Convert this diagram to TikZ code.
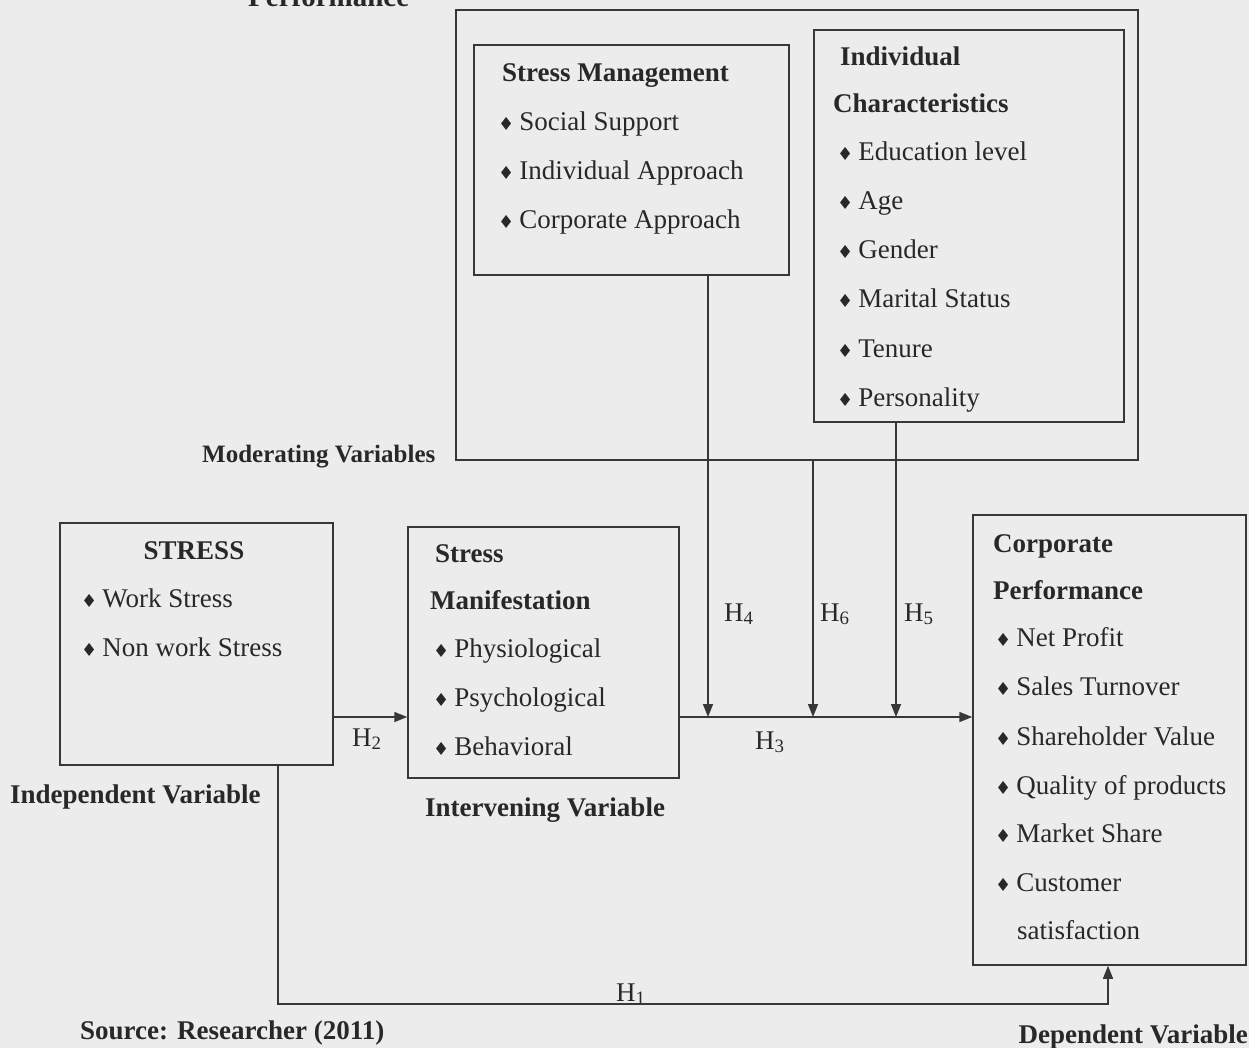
\documentclass[tikz,border=0pt]{standalone}
\usepackage{fontspec}
\setmainfont{Liberation Serif}
\newfontfamily\djv{DejaVu Sans}
\usetikzlibrary{arrows.meta}
\definecolor{bgc}{RGB}{236,236,236}
\definecolor{ink}{RGB}{40,40,40}
\definecolor{lin}{RGB}{55,55,55}
\newcommand\bl{{\djv\fontsize{18}{18}\selectfont\symbol{"2666}}\hspace{5pt}}
\tikzset{
  box/.style={draw=lin, line width=1.5pt, rectangle, inner sep=0pt},
  txt/.style={anchor=base west, inner sep=0pt, text=ink, font=\fontsize{27}{32}\selectfont},
  ttl/.style={txt, font=\fontsize{27}{32}\selectfont\bfseries},
  hl/.style={txt, font=\fontsize{27}{32}\selectfont},
  conn/.style={draw=lin, line width=1.5pt},
  arr/.style={conn, -{Triangle[length=13pt,width=10pt]}}
}
\begin{document}
\begin{tikzpicture}[x=1pt,y=-1pt]
\useasboundingbox (0,0) rectangle (1249,1048);
\fill[bgc] (0,0) rectangle (1249,1048);
\clip (0,0) rectangle (1249,1048);

% top cut-off text
\node[ttl, font=\fontsize{29}{32}\selectfont\bfseries] (perf) at (248,7) {Performance};

% boxes
\node[box, minimum width=682pt, minimum height=450pt] (outer) at (797,235) {};
\node[box, minimum width=315pt, minimum height=230pt] (SM) at (631.5,160) {};
\node[box, minimum width=310pt, minimum height=392pt] (IC) at (969,226) {};
\node[box, minimum width=273pt, minimum height=242pt] (ST) at (196.5,644) {};
\node[box, minimum width=271pt, minimum height=251pt] (MF) at (543.5,652.5) {};
\node[box, minimum width=273pt, minimum height=450pt] (CP) at (1109.5,740) {};

% Stress Management
\node[ttl] (smt) at (502,82) {Stress Management};
\node[txt] (sm1) at (498,131) {\bl Social Support};
\node[txt] (sm2) at (498,180) {\bl Individual Approach};
\node[txt] (sm3) at (498,229) {\bl Corporate Approach};

% Individual Characteristics
\node[ttl] (ict1) at (840,66) {Individual};
\node[ttl] (ict2) at (833,113) {Characteristics};
\node[txt] (ic1) at (837,161) {\bl Education level};
\node[txt] (ic2) at (837,210) {\bl Age};
\node[txt] (ic3) at (837,259) {\bl Gender};
\node[txt] (ic4) at (837,308) {\bl Marital Status};
\node[txt] (ic5) at (837,357) {\bl Tenure};
\node[txt] (ic6) at (837,406) {\bl Personality};

\node[ttl, font=\fontsize{25}{32}\selectfont\bfseries] (modv) at (202,462) {Moderating Variables};

% STRESS
\node[ttl, anchor=base] (stt) at (194,559) {STRESS};
\node[txt] (st1) at (81,607) {\bl Work Stress};
\node[txt] (st2) at (81,656) {\bl Non work Stress};

% Stress Manifestation
\node[ttl] (mft1) at (435,562) {Stress};
\node[ttl] (mft2) at (430,609) {Manifestation};
\node[txt] (mf1) at (433,657) {\bl Physiological};
\node[txt] (mf2) at (433,706) {\bl Psychological};
\node[txt] (mf3) at (433,755) {\bl Behavioral};

% Corporate Performance
\node[ttl] (cpt1) at (993,552) {Corporate};
\node[ttl] (cpt2) at (993,599) {Performance};
\node[txt] (cp1) at (995,646) {\bl Net Profit};
\node[txt] (cp2) at (995,695) {\bl Sales Turnover};
\node[txt] (cp3) at (995,745) {\bl Shareholder Value};
\node[txt] (cp4) at (995,794) {\bl Quality of products};
\node[txt] (cp5) at (995,842) {\bl Market Share};
\node[txt] (cp6) at (995,891) {\bl Customer};
\node[txt] (cp7) at (1017,939) {satisfaction};

% variable labels
\node[ttl] (indv) at (10,803) {Independent Variable};
\node[ttl] (intv) at (425,816) {Intervening Variable};
\node[ttl] (src) at (80,1039) {Source: Researcher (2011)};
\node[ttl, anchor=base east] (depv) at (1248,1043) {Dependent Variable};

% hypothesis labels
\node[hl] (h1) at (616,1001) {H\textsubscript{1}};
\node[hl] (h2) at (352,746) {H\textsubscript{2}};
\node[hl] (h3) at (755,749) {H\textsubscript{3}};
\node[hl] (h4) at (724,621) {H\textsubscript{4}};
\node[hl] (h6) at (820,621) {H\textsubscript{6}};
\node[hl] (h5) at (904,621) {H\textsubscript{5}};

% coordinates
\coordinate (yH) at (0,717);
\coordinate (x4) at (708,0);
\coordinate (x6) at (813,0);
\coordinate (x5) at (896,0);
\coordinate (x1) at (278,0);
\coordinate (xd) at (1108,0);
\coordinate (y1) at (0,1004);

% connectors
\draw[arr] (ST.east |- yH) -- (MF.west |- yH);
\draw[arr] (MF.east |- yH) -- (CP.west |- yH);
\draw[arr] (SM.south -| x4) -- (x4 |- yH);
\draw[arr] (outer.south -| x6) -- (x6 |- yH);
\draw[arr] (IC.south -| x5) -- (x5 |- yH);
\draw[arr] (ST.south -| x1) -- (x1 |- y1) -- (xd |- y1) -- (CP.south -| xd);
\end{tikzpicture}
\end{document}
